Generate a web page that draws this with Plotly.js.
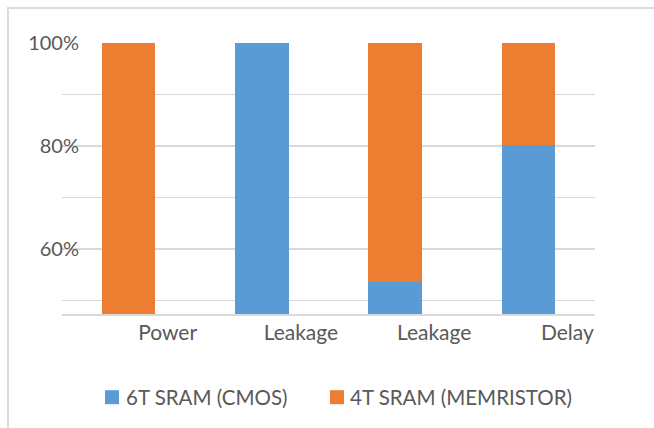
<!DOCTYPE html>
<html>
<head>
<meta charset="utf-8">
<script src="https://cdn.plot.ly/plotly-3.0.1.min.js"></script>
<style>
  html, body { margin: 0; padding: 0; background: #fff; }
  #wrap { position: relative; width: 654px; height: 428px; overflow: hidden; }
  #chart { position: absolute; left: 0; top: 0; width: 654px; height: 428px; }
  #frame { position: absolute; left: 7px; top: 7px; width: 700px; height: 500px;
           border-left: 2px solid #dcdcdc; border-top: 2px solid #dcdcdc; pointer-events: none; }
</style>
</head>
<body>
<div id="wrap">
  <div id="chart"></div>
  <div id="frame"></div>
</div>
<script>
// Data
const categories = ["Power", "Leakage", "Leakage", "Delay"];
const seriesNames = ["6T SRAM (CMOS)", "4T SRAM (MEMRISTOR)"];
const cmosValues = [0, 100, 53.7, 80.2];
const memristorValues = [100, 0, 46.3, 19.8];
const yTickVals = [60, 80, 100];
const yTickText = ["60%", "80%", "100%"];

const colors = ["#5b9bd5", "#ed7d31"];
const textColor = "#595959";
const gridColor = "#d9d9d9";
const fontFamily = "Lato, 'Open Sans', sans-serif";

const xIdx = categories.map((c, i) => i);

const traces = [
  { type: "bar", x: xIdx, y: cmosValues, name: seriesNames[0],
    marker: { color: colors[0] }, width: 0.4, showlegend: false, hoverinfo: "skip" },
  { type: "bar", x: xIdx, y: memristorValues, name: seriesNames[1],
    marker: { color: colors[1] }, width: 0.4, showlegend: false, hoverinfo: "skip" }
];

// Manual legend (built from series names/colors)
const L = 62, R = 595, T = 43.3, B = 314.3;
const pw = R - L, ph = B - T;
const px = v => (v - L) / pw;
const py = v => (B - v) / ph;
const legendItems = [
  { sx: 105, tx: 124 },
  { sx: 330, tx: 348 }
];
const legendY = 397.5;
const shapes = [];
const annotations = [];
legendItems.forEach((it, i) => {
  shapes.push({ type: "rect", xref: "paper", yref: "paper",
    x0: px(it.sx), x1: px(it.sx + 14), y0: py(legendY - 7), y1: py(legendY + 7),
    fillcolor: colors[i], line: { width: 0 } });
  annotations.push({ xref: "paper", yref: "paper", x: px(it.tx), y: py(legendY),
    xanchor: "left", yanchor: "middle", showarrow: false, text: seriesNames[i],
    font: { family: fontFamily, size: 20.5, color: textColor } });
});

const layout = {
  width: 654, height: 428,
  margin: { l: L, r: 654 - R, t: T, b: 428 - B, pad: 0 },
  paper_bgcolor: "#ffffff", plot_bgcolor: "#ffffff",
  barmode: "stack",
  showlegend: false,
  font: { family: fontFamily, size: 20, color: textColor },
  xaxis: {
    range: [-0.5, categories.length - 0.5],
    tickmode: "array", tickvals: xIdx, ticktext: categories,
    showgrid: false, zeroline: false,
    showline: true, linecolor: gridColor, linewidth: 1.5,
    ticks: "", ticklabelshift: 39, ticklabelstandoff: -1,
    tickfont: { family: fontFamily, size: 21, color: textColor },
    fixedrange: true
  },
  yaxis: {
    range: [47.4, 100],
    tickmode: "array", tickvals: yTickVals, ticktext: yTickText,
    showgrid: true, gridcolor: gridColor, gridwidth: 1.5,
    minor: { tickmode: "linear", tick0: 0, dtick: 10, showgrid: true, gridcolor: gridColor, gridwidth: 1.5, ticks: "" },
    zeroline: false, showline: false, ticks: "",
    ticklabelstandoff: -18,
    tickfont: { family: fontFamily, size: 20, color: textColor },
    fixedrange: true
  },
  shapes: shapes,
  annotations: annotations
};

Plotly.newPlot("chart", traces, layout, { displayModeBar: false, staticPlot: true });
</script>
</body>
</html>
